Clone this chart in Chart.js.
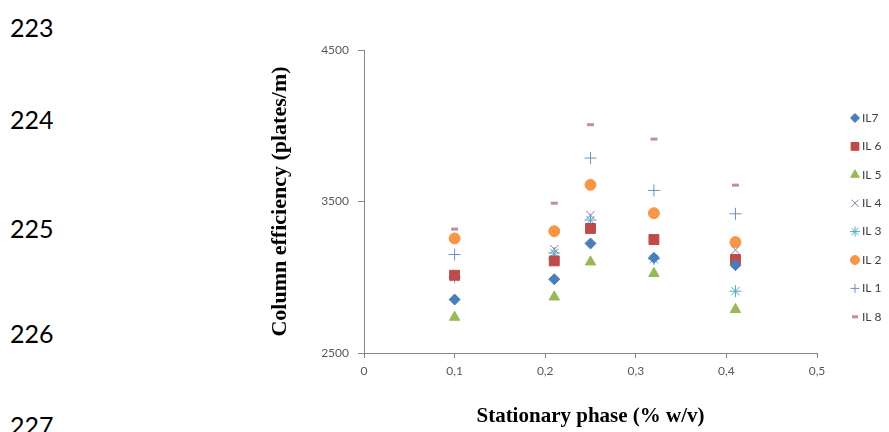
<!DOCTYPE html>
<html>
<head>
<meta charset="utf-8">
<script src="https://cdn.jsdelivr.net/npm/chart.js@4.4.0/dist/chart.umd.min.js"></script>
<style>
  html, body { margin: 0; padding: 0; background: #fff; overflow: hidden; }
  #wrap { position: relative; width: 889px; height: 432px; }
  #chart { position: absolute; left: 0; top: 0; }
  .ln { position: absolute; left: 10px; font-family: Lato, "Open Sans", sans-serif; font-size: 25px; color: #000; line-height: 30px; }
</style>
</head>
<body>
<div id="wrap">
  <div class="ln" style="top: 12px;">223</div>
  <div class="ln" style="top: 104px;">224</div>
  <div class="ln" style="top: 213px;">225</div>
  <div class="ln" style="top: 318px;">226</div>
  <div class="ln" style="top: 410px;">227</div>
  <canvas id="chart" width="889" height="432"></canvas>
</div>
<script>
// Concentração da fase estacionária (% m/v)
const phaseConc = [0.1, 0.21, 0.25, 0.32, 0.41];

// Eficiência da coluna (pratos/m) para cada líquido iônico
const il7 = [2853, 2987, 3223, 3128, 3080];
const il6 = [3013, 3108, 3322, 3249, 3117];
const il5 = [2736, 2870, 3101, 3025, 2787];
const il4 = [3010, 3185, 3410, 3245, 3180];
const il3 = [3000, 3160, 3377, 3120, 2908];
const il2 = [3256, 3304, 3610, 3423, 3232];
const il1 = [3150, 3120, 3787, 3573, 3419];
const il8 = [3318, 3489, 4007, 3912, 3608];

const seriesLabels = ["IL7", "IL 6", "IL 5", "IL 4", "IL 3", "IL 2", "IL 1", "IL 8"];
const yTicks = [2500, 3500, 4500];

function toPoints(values) {
    return phaseConc.map((x, i) => ({ x: x, y: values[i] }));
}

// estilo de cada série (marcador, cor, tamanho)
const styles = [
    { pointStyle: "rectRot", color: "#4a7ebb", radius: 5.5, legendRadius: 4.5, border: 1 },
    { pointStyle: "rect", color: "#be4b48", radius: 7, legendRadius: 5.5, border: 1 },
    { pointStyle: "triangle", color: "#98b954", radius: 6, legendRadius: 5, border: 1 },
    { pointStyle: "crossRot", color: "#8a7aa8", radius: 6, legendRadius: 5, border: 1 },
    { pointStyle: "star", color: "#4bacc6", radius: 6, legendRadius: 5, border: 1 },
    { pointStyle: "circle", color: "#f79646", radius: 5.5, legendRadius: 4.5, border: 1 },
    { pointStyle: "cross", color: "#6f8ec4", radius: 6, legendRadius: 4.5, border: 1 },
    { pointStyle: "line", color: "#c38aaa", radius: 3.5, legendRadius: 3, border: 3 }
];

const seriesValues = [il7, il6, il5, il4, il3, il2, il1, il8];

const datasets = seriesValues.map((values, i) => ({
    label: seriesLabels[i],
    data: toPoints(values),
    pointStyle: styles[i].pointStyle,
    pointRadius: styles[i].radius,
    backgroundColor: styles[i].color,
    borderColor: styles[i].color,
    borderWidth: styles[i].border,
    legendRadius: styles[i].legendRadius
}));

// Legenda lateral desenhada com os mesmos marcadores do gráfico
const sideLegend = {
    id: "sideLegend",
    afterDraw(chart) {
        const ctx = chart.ctx;
        const x = chart.chartArea.right + 38;
        let y = 118;
        ctx.save();
        ctx.font = "12px Lato, 'Open Sans', sans-serif";
        ctx.textBaseline = "middle";
        chart.data.datasets.forEach(ds => {
            ctx.fillStyle = ds.backgroundColor;
            ctx.strokeStyle = ds.borderColor;
            ctx.lineWidth = ds.borderWidth;
            Chart.helpers.drawPoint(ctx, {
                pointStyle: ds.pointStyle,
                radius: ds.legendRadius,
                rotation: 0,
                borderWidth: ds.borderWidth
            }, x, y);
            ctx.fillStyle = "#404040";
            ctx.fillText(ds.label, x + 7, y);
            y += 28.4;
        });
        ctx.restore();
    }
};

const axisColor = "#868686";
const tickFont = { family: "Lato, 'Open Sans', sans-serif", size: 12 };
const titleFont = { family: "'Liberation Serif', 'Times New Roman', serif", size: 21, weight: "bold" };

new Chart(document.getElementById("chart").getContext("2d"), {
    type: "scatter",
    data: { datasets: datasets },
    options: {
        responsive: false,
        animation: false,
        events: [],
        layout: { padding: { left: 267, top: 50, right: 72, bottom: 0 } },
        plugins: {
            legend: { display: false },
            tooltip: { enabled: false }
        },
        scales: {
            x: {
                type: "linear",
                min: 0,
                max: 0.5,
                ticks: {
                    stepSize: 0.1,
                    padding: 6,
                    color: "#595959",
                    font: tickFont,
                    callback: function (value) {
                        const v = Math.round(value * 10) / 10;
                        return v === 0 ? "0" : v.toFixed(1).replace(".", ",");
                    }
                },
                grid: { drawOnChartArea: false, drawTicks: true, tickLength: 5, color: axisColor },
                border: { color: axisColor },
                title: {
                    display: true,
                    text: "Stationary phase (% w/v)",
                    color: "#000",
                    font: titleFont,
                    padding: { top: 0, bottom: 3 }
                },
                afterFit: function (scale) { scale.height = 79; }
            },
            y: {
                min: 2500,
                max: 4500,
                afterBuildTicks: function (scale) {
                    scale.ticks = yTicks.map(v => ({ value: v }));
                },
                ticks: {
                    padding: 9,
                    color: "#595959",
                    font: tickFont,
                    callback: function (value) { return String(value); }
                },
                grid: { drawOnChartArea: false, drawTicks: true, tickLength: 6, color: axisColor },
                border: { color: axisColor },
                title: {
                    display: true,
                    text: "Column efficiency (plates/m)",
                    color: "#000",
                    font: { family: titleFont.family, size: 22, weight: "bold" },
                    padding: { top: 0, bottom: 0 }
                },
                afterFit: function (scale) { scale.width = 97; }
            }
        }
    },
    plugins: [sideLegend]
});
</script>
</body>
</html>
